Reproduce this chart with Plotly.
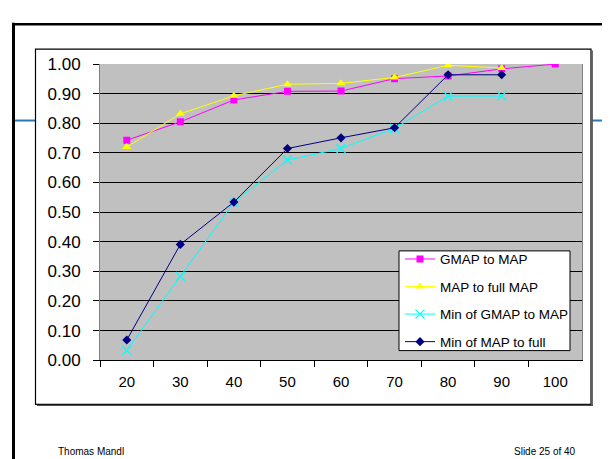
import plotly.graph_objects as go

W, H = 610, 459

categories = ["20", "30", "40", "50", "60", "70", "80", "90", "100"]
gmap_to_map = [0.743, 0.805, 0.879, 0.908, 0.909, 0.951, 0.960, 0.984, 1.000]
map_to_full = [0.720, 0.832, 0.893, 0.932, 0.935, 0.955, 0.996, 0.987, None]
min_gmap_to_map = [0.033, 0.283, 0.533, 0.676, 0.715, 0.783, 0.892, 0.892, None]
min_map_to_full = [0.068, 0.391, 0.534, 0.715, 0.751, 0.785, 0.964, 0.964, None]
y_ticks = [0.0, 0.1, 0.2, 0.3, 0.4, 0.5, 0.6, 0.7, 0.8, 0.9, 1.0]


def px(x):
    return x / W


def py(y):
    return 1 - y / H


fig = go.Figure()

series = [
    ("GMAP to MAP", gmap_to_map, "#FF00FF", dict(symbol="square", size=7, color="#FF00FF")),
    ("MAP to full MAP", map_to_full, "#FFFF00", dict(symbol="triangle-up", size=8, color="#FFFF00")),
    ("Min of GMAP to MAP", min_gmap_to_map, "#00FFFF",
     dict(symbol="x-thin", size=9, color="#00FFFF", line=dict(color="#00FFFF", width=1.3))),
    ("Min of MAP to full", min_map_to_full, "#000080", dict(symbol="diamond", size=7, color="#000080")),
]

for i, (name, vals, col, mk) in enumerate(series):
    fig.add_trace(go.Scatter(
        x=categories, y=vals, name=name, mode="lines+markers",
        line=dict(color=col, width=1), marker=mk,
        legendgroup=f"g{i}", connectgaps=False,
    ))

FONT = "Liberation Sans, Arial, sans-serif"

fig.update_layout(
    width=W, height=H,
    margin=dict(l=0, r=0, t=0, b=0),
    paper_bgcolor="white",
    plot_bgcolor="#C0C0C0",
    showlegend=True,
    legend=dict(
        x=px(392), y=py(236.5), xanchor="left", yanchor="top",
        bgcolor="rgba(0,0,0,0)", borderwidth=0,
        font=dict(family=FONT, size=13.5, color="black"),
        itemwidth=30, tracegroupgap=7,
    ),
    xaxis=dict(
        domain=[px(92), px(574)],
        type="category", range=[-0.5, 8.5],
        tickson="boundaries", ticks="outside", ticklen=6, tickcolor="black",
        ticklabelstandoff=8,
        showgrid=False, showline=True, linecolor="black", linewidth=1,
        tickfont=dict(family=FONT, size=15, color="black"),
        fixedrange=True,
    ),
    yaxis=dict(
        domain=[py(358), py(49)],
        range=[0, 1.0005], tickvals=y_ticks, tickformat=".2f",
        ticks="outside", ticklen=6, tickcolor="black",
        ticklabelstandoff=9,
        showgrid=True, gridcolor="black", gridwidth=1,
        zeroline=False, showline=True, linecolor="#808080", linewidth=1, mirror=True,
        tickfont=dict(family=FONT, size=17, color="black"),
        fixedrange=True,
    ),
)

shapes = [
    # slide frame
    dict(type="line", xref="paper", yref="paper", x0=px(5.5), x1=px(5.5), y0=py(6), y1=py(470),
         line=dict(color="black", width=3)),
    dict(type="line", xref="paper", yref="paper", x0=px(4), x1=px(620), y0=py(7.5), y1=py(7.5),
         line=dict(color="black", width=2.5)),
    # blue slide rule
    dict(type="line", xref="paper", yref="paper", x0=px(7), x1=px(27), y0=py(108), y1=py(108),
         line=dict(color="#2A7AB8", width=2)),
    dict(type="line", xref="paper", yref="paper", x0=px(584), x1=px(615), y0=py(108), y1=py(108),
         line=dict(color="#2A7AB8", width=2)),
    # chart box
    dict(type="rect", xref="paper", yref="paper", x0=px(27.5), x1=px(583), y0=py(404), y1=py(33.5),
         line=dict(color="black", width=1.2), fillcolor="rgba(0,0,0,0)"),
    dict(type="line", xref="paper", yref="paper", x0=px(584.2), x1=px(584.2), y0=py(35), y1=py(405),
         line=dict(color="#505050", width=1.3)),
    dict(type="line", xref="paper", yref="paper", x0=px(29), x1=px(585), y0=py(405.2), y1=py(405.2),
         line=dict(color="#505050", width=1.3)),
    # legend box
    dict(type="rect", xref="paper", yref="paper", x0=px(391), x1=px(562), y0=py(348), y1=py(244),
         line=dict(color="black", width=1), fillcolor="white", layer="above"),
]
fig.update_layout(shapes=shapes)

FOOT = "Liberation Sans, Arial, sans-serif"
fig.add_annotation(text="Thomas Mandl", xref="paper", yref="paper", x=px(48), y=py(453),
                   xanchor="left", yanchor="middle", showarrow=False,
                   font=dict(family=FOOT, size=10, color="black"))
fig.add_annotation(text="Slide 25 of 40", xref="paper", yref="paper", x=px(569.5), y=py(453.5),
                   xanchor="right", yanchor="middle", showarrow=False,
                   font=dict(family=FOOT, size=10, color="black"))

fig.write_html("out.html", config={"displayModeBar": False})
